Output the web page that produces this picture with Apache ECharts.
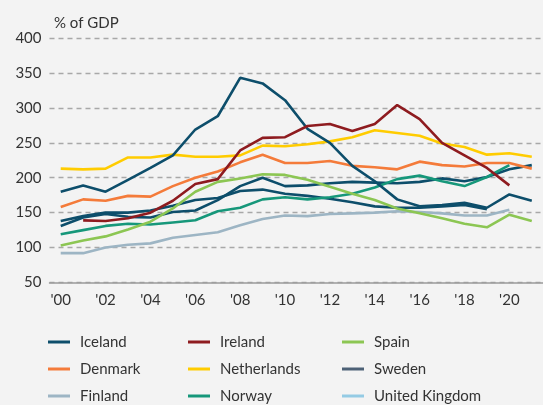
<!DOCTYPE html>
<html>
<head>
<meta charset="utf-8">
<script src="https://cdn.jsdelivr.net/npm/echarts@6/dist/echarts.min.js"></script>
<style>
  html, body { margin: 0; padding: 0; background: #f3f3f3; }
  #chart { width: 543px; height: 405px; }
</style>
</head>
<body>
<div id="chart"></div>
<script>
// Private sector debt, % of GDP, 2000-2021
const years = ["'00","'01","'02","'03","'04","'05","'06","'07","'08","'09","'10",
               "'11","'12","'13","'14","'15","'16","'17","'18","'19","'20","'21"];
const yTicks = { min: 50, max: 400, step: 50 };
const unitLabel = '% of GDP';

const iceland     = [180, 189, 180, 197, 214, 232, 269, 288, 343, 335, 311, 270, 250, 217, 195, 169, 159, 161, 164, 157, 176, 167];
const ireland     = [null, 139, 138, 142, 150, 167, 191, 198, 239, 257, 258, 274, 277, 267, 277, 304, 284, 250, 232, 214, 189, null];
const spain       = [103, 110, 116, 126, 137, 156, 180, 194, 199, 205, 204, 197, 187, 177, 168, 156, 149, 142, 134, 129, 147, 138];
const denmark     = [158, 169, 167, 174, 173, 188, 200, 209, 222, 233, 221, 221, 224, 217, 215, 212, 223, 218, 216, 221, 221, 213];
const netherlands = [213, 212, 213, 229, 229, 233, 230, 230, 232, 246, 245, 248, 252, 258, 268, 264, 260, 249, 244, 233, 235, 230];
const sweden      = [131, 143, 148, 144, 143, 151, 153, 168, 188, 200, 188, 189, 192, 194, 193, 192, 194, 199, 195, 201, 212, 218];
const finland     = [92, 92, 100, 104, 106, 114, 118, 122, 132, 141, 146, 145, 148, 149, 150, 152, 151, 149, 146, 146, 154, null];
const norway      = [119, 125, 131, 134, 133, 136, 139, 152, 157, 169, 172, 169, 172, 177, 186, 198, 203, 195, 188, 201, 218, null];
const uk          = [138, 145, 150, 150, 153, 160, 168, 171, 181, 183, 177, 174, 170, 165, 159, 157, 157, 159, 161, 155, null, null];

const DARK = '#0d4e6b';
// name, values, legend colour, line colour
const countries = [
  ['Finland',        finland,     '#9db5c4', '#9db5c4'],
  ['United Kingdom', uk,          '#94cbe4', DARK],
  ['Sweden',         sweden,      '#4d6176', DARK],
  ['Norway',         norway,      '#16977a', '#16977a'],
  ['Spain',          spain,       '#8cc653', '#8cc653'],
  ['Denmark',        denmark,     '#f47b3a', '#f47b3a'],
  ['Netherlands',    netherlands, '#ffcc00', '#ffcc00'],
  ['Iceland',        iceland,     DARK,      DARK],
  ['Ireland',        ireland,     '#8e1b1f', '#8e1b1f']
];
const legendColumns = [
  ['Iceland', 'Denmark', 'Finland'],
  ['Ireland', 'Netherlands', 'Norway'],
  ['Spain', 'Sweden', 'United Kingdom']
];
const legendLeft = [48, 188, 342];

const FONT = 'Lato, "Open Sans", sans-serif';
const TEXT = '#333333';
const colorOf = Object.fromEntries(countries.map(c => [c[0], c[2]]));

const chart = echarts.init(document.getElementById('chart'), null, { renderer: 'canvas' });
chart.setOption({
  backgroundColor: '#f3f3f3',
  animation: false,
  textStyle: { fontFamily: FONT },
  title: {
    text: unitLabel,
    left: 49, top: 11,
    textStyle: { fontFamily: FONT, fontSize: 15, fontWeight: 'normal', color: TEXT }
  },
  grid: { left: 49.5, top: 38, width: 495, height: 244.5, containLabel: false },
  legend: legendColumns.map((col, i) => ({
    orient: 'vertical',
    left: legendLeft[i],
    top: 333,
    width: 190,
    height: 100,
    padding: 0,
    icon: 'rect',
    itemWidth: 22,
    itemHeight: 3,
    itemGap: 9,
    selectedMode: false,
    data: col.map(n => ({ name: n, itemStyle: { color: colorOf[n] } })),
    textStyle: { fontFamily: FONT, fontSize: 15, color: TEXT, lineHeight: 18, padding: [0, 0, 0, 5] }
  })),
  xAxis: {
    type: 'category',
    data: years,
    boundaryGap: true,
    axisLine: { lineStyle: { color: '#9a9a9a', width: 1.5 } },
    axisTick: { interval: 0, length: 8, lineStyle: { color: '#9a9a9a', width: 1.5 } },
    axisLabel: { interval: 1, margin: 10, fontFamily: FONT, fontSize: 15, color: TEXT },
    splitLine: { show: false }
  },
  yAxis: {
    type: 'value',
    min: yTicks.min, max: yTicks.max, interval: yTicks.step,
    axisLine: { show: false },
    axisTick: { show: false },
    axisLabel: { margin: 8, fontFamily: FONT, fontSize: 15, color: TEXT },
    splitLine: { lineStyle: { color: '#a8a8a8', width: 1.3, type: [5, 4] } }
  },
  series: countries.map(([name, values, legendColor, lineColor]) => ({
    name,
    type: 'line',
    data: values,
    symbol: 'none',
    connectNulls: false,
    itemStyle: { color: legendColor },
    lineStyle: { color: lineColor, width: 2.6 },
    emphasis: { disabled: true }
  }))
});
</script>
</body>
</html>
